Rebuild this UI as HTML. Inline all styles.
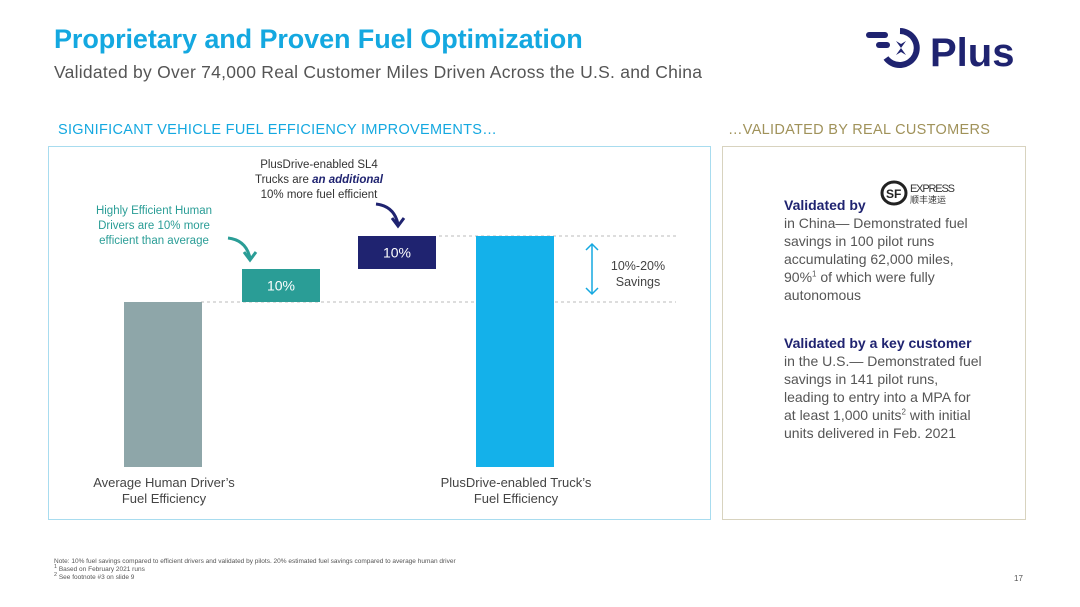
<!DOCTYPE html>
<html><head><meta charset="utf-8"><style>
body{margin:0;width:1080px;height:607px;background:#fff;font-family:"Liberation Sans",sans-serif;position:relative;overflow:hidden}
.a{position:absolute}
sup{line-height:0}
</style></head><body>
<div class="a" style="left:54px;top:24px;font-size:27px;font-weight:bold;color:#14a8e0;letter-spacing:-0.1px">Proprietary and Proven Fuel Optimization</div>
<div class="a" style="left:54px;top:62px;font-size:17.5px;color:#555;letter-spacing:0.25px">Validated by Over 74,000 Real Customer Miles Driven Across the U.S. and China</div>
<div class="a" style="left:864px;top:26px;width:165px;height:48px">
<svg width="165" height="48" viewBox="0 0 165 48"><g fill="#1f2370"><rect x="2" y="6" width="22" height="6" rx="3"/><rect x="12" y="16" width="14" height="6" rx="3"/></g><path d="M36 5 A17 17 0 1 1 22 32" fill="none" stroke="#1f2370" stroke-width="6"/><path d="M37 22 l-5 -7 l5 3 l5 -3 z M37 22 l-5 7 l5 -3 l5 3 z" fill="#1f2370"/><text x="66" y="40" font-family="Liberation Sans" font-weight="bold" font-size="40" fill="#1f2370">Plus</text></svg></div>
<div class="a" style="left:58px;top:122px;font-size:14.5px;color:#14a8e0;letter-spacing:0.3px">SIGNIFICANT VEHICLE FUEL EFFICIENCY IMPROVEMENTS…</div>
<div class="a" style="left:728px;top:122px;font-size:14.5px;color:#a0925a;letter-spacing:0.3px">…VALIDATED BY REAL CUSTOMERS</div>
<div class="a" style="left:48px;top:146px;width:661px;height:372px;border:1px solid #a8dcef"></div>
<div class="a" style="left:722px;top:146px;width:302px;height:372px;border:1px solid #d8d3bf"></div>
<svg class="a" id="chart" style="left:0;top:0" width="720" height="520"></svg>
<div class="a" style="left:88px;top:204px;width:132px;text-align:center;font-size:11.5px;line-height:15px;color:#2a9d96">Highly Efficient Human Drivers are 10% more efficient than average</div>
<div class="a" style="left:244px;top:158px;width:150px;text-align:center;font-size:11.5px;line-height:15px;color:#333">PlusDrive-enabled SL4 Trucks are <b><i style="color:#1f2370">an additional</i></b> 10% more fuel efficient</div>
<div class="a" style="left:602px;top:258px;width:72px;text-align:center;font-size:12.5px;line-height:16px;color:#444">10%-20% Savings</div>
<div class="a" style="left:80px;top:475px;width:168px;text-align:center;font-size:13px;line-height:16px;color:#444">Average Human Driver’s Fuel Efficiency</div>
<div class="a" style="left:436px;top:475px;width:160px;text-align:center;font-size:13px;line-height:16px;color:#444">PlusDrive-enabled Truck’s Fuel Efficiency</div>
<div class="a" style="left:880px;top:180px;width:78px;height:26px">
<svg width="80" height="28"><ellipse cx="14" cy="13" rx="12" ry="11" fill="none" stroke="#222" stroke-width="3"/><text x="6" y="18" font-size="12" font-weight="bold" fill="#222" font-family="Liberation Sans">SF</text><text x="30" y="12" font-size="11" fill="#333" font-family="Liberation Sans" textLength="45">EXPRESS</text><text x="30" y="23" font-size="9" fill="#333" font-family="Noto Sans CJK SC,sans-serif">顺丰速运</text></svg></div>
<div class="a" style="left:784px;top:196px;width:200px;font-size:14px;line-height:18px;color:#555"><b style="color:#1f2370">Validated by</b><br>in China— Demonstrated fuel savings in 100 pilot runs accumulating 62,000 miles, 90%<sup style="font-size:8px">1</sup> of which were fully autonomous</div>
<div class="a" style="left:784px;top:334px;width:200px;font-size:14px;line-height:18px;color:#555"><b style="color:#1f2370">Validated by a key customer</b><br>in the U.S.— Demonstrated fuel savings in 141 pilot runs, leading to entry into a MPA for at least 1,000 units<sup style="font-size:8px">2</sup> with initial units delivered in Feb. 2021</div>
<div class="a" style="left:54px;top:558px;font-size:6.5px;line-height:8px;color:#555">Note: 10% fuel savings compared to efficient drivers and validated by pilots. 20% estimated fuel savings compared to average human driver<br><sup>1</sup> Based on February 2021 runs<br><sup>2</sup> See footnote #3 on slide 9</div>
<div class="a" style="left:1014px;top:574px;font-size:8px;color:#555">17</div>
<script>
const categories=["Average","Efficient Human","PlusDrive","PlusDrive Truck"];
const values=[50,10,10,70];
const kinds=["base","step","step","total"];
const labels=["","10%","10%",""];
const colors=["#8ea6a9","#2a9d96","#1f2370","#14b1ea"];
const baseY=467,scale=3.3;
const xs=[124,242,358,476],w=78;
const y=v=>baseY-v*scale;
const svg=document.getElementById('chart');
const NS="http://www.w3.org/2000/svg";
let run=0;
function line(x1,y1,x2,y2,dash,col,sw){const l=document.createElementNS(NS,'line');l.setAttribute('x1',x1);l.setAttribute('y1',y1);l.setAttribute('x2',x2);l.setAttribute('y2',y2);l.setAttribute('stroke',col);l.setAttribute('stroke-width',sw||1);if(dash)l.setAttribute('stroke-dasharray',dash);svg.appendChild(l);return l;}
const baseTop=y(values[0]);const totalTop=y(values[3]);
let g1=line(201,baseTop,676,baseTop,"3,3","#bbb");
let g2=line(439,totalTop,676,totalTop,"3,3","#bbb");
categories.forEach((c,i)=>{
 let lo,hi;
 if(kinds[i]==="step"){lo=run;hi=run+values[i];run=hi;}else{lo=0;hi=values[i];run=values[i];}
 const r=document.createElementNS(NS,'rect');
 r.setAttribute('x',xs[i]);r.setAttribute('y',y(hi));r.setAttribute('width',w);r.setAttribute('height',(hi-lo)*scale);r.setAttribute('fill',colors[i]);
 
 
 svg.appendChild(r);
 if(labels[i]){const t=document.createElementNS(NS,'text');t.setAttribute('x',xs[i]+w/2);t.setAttribute('y',(y(hi)+y(lo))/2+5);t.setAttribute('text-anchor','middle');t.setAttribute('fill','#fff');t.setAttribute('font-size','14');t.setAttribute('font-family','Liberation Sans');t.textContent=labels[i];
 
 
 svg.appendChild(t);}
});
const ar=line(592,totalTop+8,592,baseTop-8,null,"#14a8e0",1.5);
function poly(d,col,sw){const p=document.createElementNS(NS,'path');p.setAttribute('d',d);p.setAttribute('fill','none');p.setAttribute('stroke',col);p.setAttribute('stroke-width',sw);svg.appendChild(p);return p;}
poly(`M586 ${totalTop+14} L592 ${totalTop+8} L598 ${totalTop+14} M586 ${baseTop-14} L592 ${baseTop-8} L598 ${baseTop-14}`,"#14a8e0",1.5);
const c1=poly("M228 238 Q246 240 250 258 M244 252 L250 260 L256 252","#2a9d96",3);
const c2=poly("M376 204 Q394 206 398 224 M392 218 L398 226 L404 218","#1f2370",3);
</script>
</body></html>
